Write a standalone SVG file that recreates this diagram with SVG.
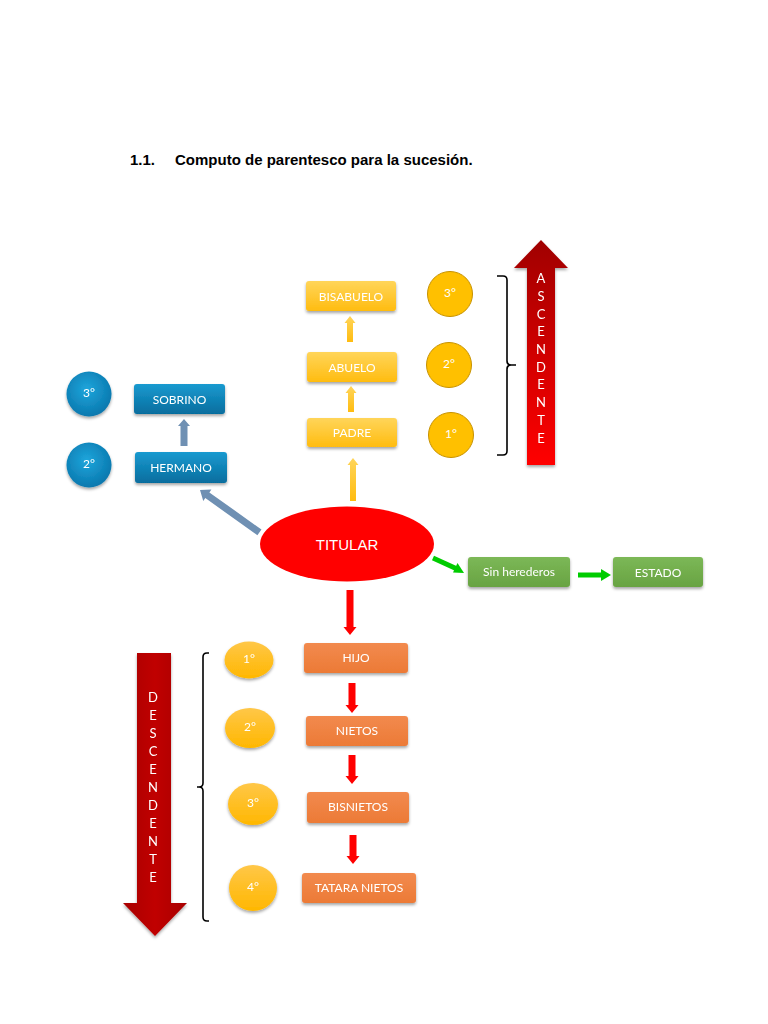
<svg xmlns="http://www.w3.org/2000/svg" width="768" height="1024" viewBox="0 0 768 1024">
<defs>
<linearGradient id="gYel" x1="0" y1="0" x2="0" y2="1"><stop offset="0" stop-color="#ffd55a"/><stop offset="1" stop-color="#ffbc10"/></linearGradient>
<linearGradient id="gBlue" x1="0" y1="0" x2="0" y2="1"><stop offset="0" stop-color="#1a9ad0"/><stop offset="1" stop-color="#066d9e"/></linearGradient>
<radialGradient id="gBlueC" cx="0.45" cy="0.4" r="0.6"><stop offset="0" stop-color="#1ea6dc"/><stop offset="1" stop-color="#0a78ae"/></radialGradient>
<linearGradient id="gGreen" x1="0" y1="0" x2="0" y2="1"><stop offset="0" stop-color="#7cb857"/><stop offset="1" stop-color="#68a342"/></linearGradient>
<linearGradient id="gOr" x1="0" y1="0" x2="0" y2="1"><stop offset="0" stop-color="#f28a4e"/><stop offset="1" stop-color="#ec7a36"/></linearGradient>
<linearGradient id="gOrC" x1="0" y1="0" x2="0" y2="1"><stop offset="0" stop-color="#ffc748"/><stop offset="1" stop-color="#ffb700"/></linearGradient>
<linearGradient id="gAsc" x1="0" y1="0" x2="0" y2="1"><stop offset="0" stop-color="#a00000"/><stop offset="1" stop-color="#ff0000"/></linearGradient>
<linearGradient id="gDesc" x1="0" y1="0" x2="1" y2="0"><stop offset="0" stop-color="#a80000"/><stop offset="0.5" stop-color="#c00000"/><stop offset="1" stop-color="#a80000"/></linearGradient>
<filter id="sh" x="-20%" y="-20%" width="140%" height="150%"><feDropShadow dx="0" dy="2" stdDeviation="1.5" flood-color="#000" flood-opacity="0.35"/></filter>
</defs>
<style>
.t{font-family:Lato,"Open Sans",sans-serif;font-size:12px;fill:#fff;text-anchor:middle;dominant-baseline:central}
.v{font-family:Lato,"Open Sans",sans-serif;font-size:13px;fill:#fff;text-anchor:middle}
.br{fill:none;stroke:#000;stroke-width:1.6}
</style>
<rect width="768" height="1024" fill="#fff"/>
<g id="title" font-family="Liberation Sans, Arial, sans-serif" font-size="15" font-weight="bold" fill="#000">
<text x="130" y="165">1.1.</text>
<text x="175" y="165">Computo de parentesco para la sucesión.</text>
</g>
<g id="connectors">
<path d="M350,316 l-5.5,7 h2.5 v19 h6 v-19 h2.5 z" fill="url(#gYel)"/>
<path d="M351,386 l-5.5,7 h2.5 v19 h6 v-19 h2.5 z" fill="url(#gYel)"/>
<path d="M353,458 l-5.5,7 h2.5 v36 h6 v-36 h2.5 z" fill="url(#gYel)"/>
<path d="M184,419 l-6,7 h2.5 v20 h7 v-20 h2.5 z" fill="#6f90b3"/>
<g transform="translate(200,490) rotate(-54.5)"><path d="M0,0 l-7,9 h3.5 v64 h7 v-64 h3.5 z" fill="#6f90b3"/></g>
<line x1="433" y1="558" x2="456" y2="568.5" stroke="#00cc00" stroke-width="5"/>
<path d="M464,573 l-11,-0.5 l4.5,-9.5 z" fill="#00cc00"/>
<line x1="578" y1="575" x2="602" y2="575" stroke="#00cc00" stroke-width="5"/>
<path d="M611,575 l-10,-6 v12 z" fill="#00cc00"/>
<path d="M350,635 l-6.5,-8 h3 v-37 h7 v37 h3 z" fill="#ff0000"/>
<path d="M352,713 l-6.5,-8 h3 v-22 h7 v22 h3 z" fill="#ff0000"/>
<path d="M352,784 l-6.5,-8 h3 v-21 h7 v21 h3 z" fill="#ff0000"/>
<path d="M353,864 l-6.5,-8 h3 v-21 h7 v21 h3 z" fill="#ff0000"/>
</g>
<g id="bisabuelo" filter="url(#sh)"><rect x="306" y="281" width="90" height="30" rx="3" fill="url(#gYel)"/><text class="t" x="351" y="296">BISABUELO</text></g>
<g id="abuelo" filter="url(#sh)"><rect x="307" y="352" width="90" height="30" rx="3" fill="url(#gYel)"/><text class="t" x="352" y="367">ABUELO</text></g>
<g id="padre" filter="url(#sh)"><rect x="307" y="418" width="90" height="29" rx="3" fill="url(#gYel)"/><text class="t" x="352" y="432">PADRE</text></g>
<g id="asc3"><circle cx="450" cy="294" r="22.5" fill="#ffc000" stroke="#c79200" stroke-width="1"/><text class="t" x="450" y="292">3°</text></g>
<g id="asc2"><circle cx="449" cy="365" r="22.5" fill="#ffc000" stroke="#c79200" stroke-width="1"/><text class="t" x="449" y="363">2°</text></g>
<g id="asc1"><circle cx="451" cy="435" r="22.5" fill="#ffc000" stroke="#c79200" stroke-width="1"/><text class="t" x="451" y="433">1°</text></g>
<g id="braceAsc"><path class="br" d="M497,276 h6 q4,0 4,4 v81 q0,4 4,4 h5 M516,365 h-5 q-4,0 -4,4 v82 q0,4 -4,4 h-6"/></g>
<g id="ascendente" filter="url(#sh)">
<path d="M541,240 L568,268 H555 V465 H527 V268 H514 Z" fill="url(#gAsc)"/>
<g class="v"><text x="541" y="283">A</text><text x="541" y="301">S</text><text x="541" y="319">C</text><text x="541" y="336">E</text><text x="541" y="354">N</text><text x="541" y="372">D</text><text x="541" y="389">E</text><text x="541" y="407">N</text><text x="541" y="425">T</text><text x="541" y="443">E</text></g>
</g>
<g id="sobrino" filter="url(#sh)"><rect x="134" y="384" width="91" height="30" rx="3" fill="url(#gBlue)"/><text class="t" x="179.5" y="399">SOBRINO</text></g>
<g id="hermano" filter="url(#sh)"><rect x="135" y="452" width="92" height="31" rx="3" fill="url(#gBlue)"/><text class="t" x="181" y="467">HERMANO</text></g>
<g id="lat3" filter="url(#sh)"><circle cx="89" cy="394" r="22.5" fill="url(#gBlueC)"/><text class="t" x="89" y="392">3°</text></g>
<g id="lat2" filter="url(#sh)"><circle cx="89" cy="465" r="22.5" fill="url(#gBlueC)"/><text class="t" x="89" y="463">2°</text></g>
<g id="titular"><ellipse cx="347" cy="544" rx="87" ry="37.5" fill="#ff0000"/><text x="347" y="544" font-family="Liberation Sans, Arial, sans-serif" font-size="15" fill="#fff" text-anchor="middle" dominant-baseline="central">TITULAR</text></g>
<g id="sinherederos" filter="url(#sh)"><rect x="468" y="557" width="102" height="30" rx="3" fill="url(#gGreen)"/><text class="t" x="519" y="571">Sin herederos</text></g>
<g id="estado" filter="url(#sh)"><rect x="613" y="557" width="90" height="30" rx="3" fill="url(#gGreen)"/><text class="t" x="658" y="572">ESTADO</text></g>
<g id="hijo" filter="url(#sh)"><rect x="304" y="643" width="104" height="30" rx="3" fill="url(#gOr)"/><text class="t" x="356" y="657">HIJO</text></g>
<g id="nietos" filter="url(#sh)"><rect x="306" y="716" width="102" height="30" rx="3" fill="url(#gOr)"/><text class="t" x="357" y="730">NIETOS</text></g>
<g id="bisnietos" filter="url(#sh)"><rect x="307" y="792" width="102" height="31" rx="3" fill="url(#gOr)"/><text class="t" x="358" y="806">BISNIETOS</text></g>
<g id="tataranietos" filter="url(#sh)"><rect x="302" y="873" width="114" height="30" rx="3" fill="url(#gOr)"/><text class="t" x="359" y="887">TATARA NIETOS</text></g>
<g id="desc1" filter="url(#sh)"><ellipse cx="249" cy="660" rx="24.5" ry="18.5" fill="url(#gOrC)"/><text class="t" x="249" y="658">1°</text></g>
<g id="desc2" filter="url(#sh)"><ellipse cx="250" cy="728" rx="25" ry="20" fill="url(#gOrC)"/><text class="t" x="250" y="726">2°</text></g>
<g id="desc3" filter="url(#sh)"><ellipse cx="253" cy="804" rx="25" ry="21" fill="url(#gOrC)"/><text class="t" x="253" y="802">3°</text></g>
<g id="desc4" filter="url(#sh)"><ellipse cx="253" cy="888" rx="24" ry="23" fill="url(#gOrC)"/><text class="t" x="253" y="886">4°</text></g>
<g id="braceDesc"><path class="br" d="M209,653 h-2 q-4,0 -4,4 v126 q0,4 -4,4 h-2 M199,787 q4,0 4,4 v126 q0,4 4,4 h2"/></g>
<g id="descendente" filter="url(#sh)">
<path d="M137,653 H171 V903 H187 L155,936 L123,903 H137 Z" fill="url(#gDesc)"/>
<g class="v"><text x="153" y="702">D</text><text x="153" y="720">E</text><text x="153" y="738">S</text><text x="153" y="756">C</text><text x="153" y="774">E</text><text x="153" y="792">N</text><text x="153" y="810">D</text><text x="153" y="828">E</text><text x="153" y="846">N</text><text x="153" y="864">T</text><text x="153" y="882">E</text></g>
</g>
</svg>
